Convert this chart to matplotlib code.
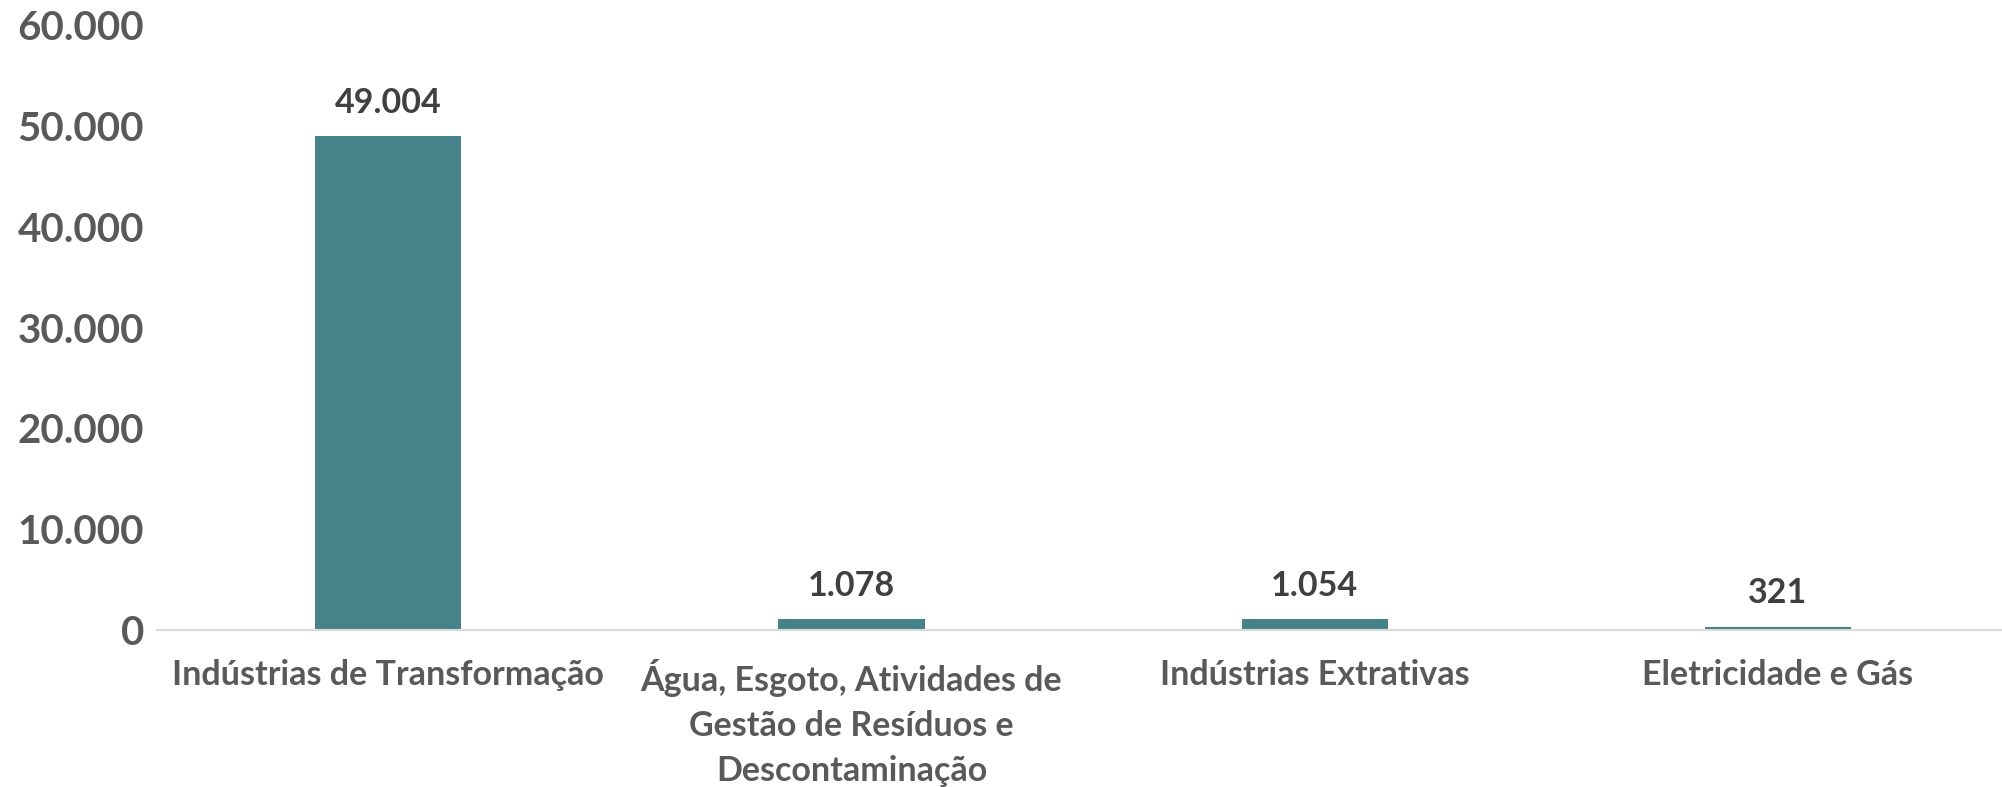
import matplotlib.pyplot as plt
from matplotlib.ticker import FuncFormatter

categories = ["Indústrias de Transformação",
              "Água, Esgoto, Atividades de\nGestão de Resíduos e\nDescontaminação",
              "Indústrias Extrativas",
              "Eletricidade e Gás"]
values = [49004, 1078, 1054, 321]
yticks = [0, 10000, 20000, 30000, 40000, 50000, 60000]

plt.rcParams['font.family'] = ['Lato', 'DejaVu Sans']
plt.rcParams['font.weight'] = 'bold'

fig = plt.figure(figsize=(20.02, 7.87), dpi=100)
ax = fig.add_axes([0.0782, 0.1995, 0.9256, 0.7687])

x = range(len(categories))
ax.bar(x, values, width=0.316, color="#46828A")

for i, v in zip(x, values):
    label = f"{v:,}".replace(",", ".")
    ax.annotate(label, (i, v), xytext=(0, 24), textcoords="offset points",
                ha="center", va="center", fontsize=24.5, fontweight="bold", color="#404040")

ax.set_xlim(-0.5, 3.5)
ax.set_ylim(0, 60000)
ax.set_yticks(yticks)
ax.yaxis.set_major_formatter(FuncFormatter(lambda v, p: f"{int(v):,}".replace(",", ".")))
ax.set_xticks(list(x))
ax.set_xticklabels(categories, linespacing=1.5)

ax.tick_params(axis="y", length=0, pad=9, labelsize=29, labelcolor="#595959")
ax.tick_params(axis="x", length=0, pad=21, labelsize=24.5, labelcolor="#595959")
for lbl in ax.get_xticklabels() + ax.get_yticklabels():
    lbl.set_fontweight("bold")

for s in ["top", "right", "left"]:
    ax.spines[s].set_visible(False)
ax.spines["bottom"].set_color("#D9D9D9")
ax.spines["bottom"].set_linewidth(1.5)

fig.savefig("out.png", dpi=100)
